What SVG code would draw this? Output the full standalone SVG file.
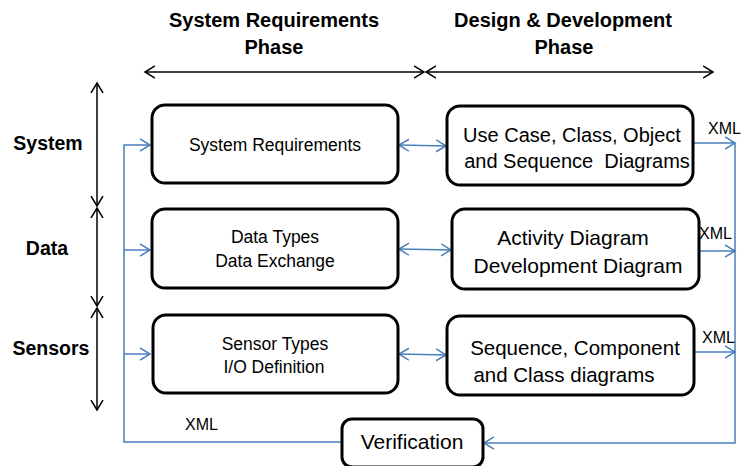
<svg xmlns="http://www.w3.org/2000/svg" width="743" height="466" viewBox="0 0 743 466">
<defs>
<marker id="ab" markerUnits="userSpaceOnUse" markerWidth="12" markerHeight="14" refX="10" refY="7" orient="auto-start-reverse" viewBox="0 0 12 14">
<path d="M0,1 L10,7 L0,13" fill="none" stroke="#000" stroke-width="1.5"/>
</marker>
<marker id="au" markerUnits="userSpaceOnUse" markerWidth="12" markerHeight="14" refX="10" refY="7" orient="auto-start-reverse" viewBox="0 0 12 14">
<path d="M0,1 L10,7 L0,13" fill="none" stroke="#4A7EBB" stroke-width="1.5"/>
</marker>
</defs>
<style>
text{font-family:"Liberation Sans",Arial,sans-serif;fill:#000}
.h{font-weight:bold;font-size:20px;text-anchor:middle}
.lab{font-weight:bold;font-size:19.5px;text-anchor:middle}
.box{fill:#fff;stroke:#000;stroke-width:3}
.t1{font-size:17.5px;text-anchor:middle}
.t2{font-size:20px;text-anchor:middle}
.x{font-size:16px}
.bk{fill:none;stroke:#000;stroke-width:1.5}
.bl{fill:none;stroke:#4A7EBB;stroke-width:1.5}
</style>
<g id="headers">
<text class="h" x="274" y="27">System Requirements</text>
<text class="h" x="274" y="54">Phase</text>
<text class="h" x="563" y="27">Design &amp; Development</text>
<text class="h" x="564" y="54">Phase</text>
</g>
<g id="rowlabels">
<text class="lab" x="48" y="150">System</text>
<text class="lab" x="47" y="255">Data</text>
<text class="lab" x="51" y="355">Sensors</text>
</g>
<g id="connectors">
<line class="bk" x1="145" y1="72" x2="424" y2="72" marker-start="url(#ab)" marker-end="url(#ab)"/>
<line class="bk" x1="426" y1="72" x2="713" y2="72" marker-start="url(#ab)" marker-end="url(#ab)"/>
<line class="bk" x1="97" y1="83" x2="97" y2="206" marker-start="url(#ab)" marker-end="url(#ab)"/>
<line class="bk" x1="97" y1="208" x2="97" y2="306" marker-start="url(#ab)" marker-end="url(#ab)"/>
<line class="bk" x1="97" y1="308" x2="97" y2="410" marker-start="url(#ab)" marker-end="url(#ab)"/>
<path class="bl" d="M341,442 H124 V145 H150" marker-end="url(#au)"/>
<path class="bl" d="M124,250 H150" marker-end="url(#au)"/>
<path class="bl" d="M124,354 H150" marker-end="url(#au)"/>
<line class="bl" x1="399" y1="145" x2="446" y2="146" marker-start="url(#au)" marker-end="url(#au)"/>
<line class="bl" x1="399" y1="249" x2="451" y2="250" marker-start="url(#au)" marker-end="url(#au)"/>
<line class="bl" x1="399" y1="354" x2="446" y2="355" marker-start="url(#au)" marker-end="url(#au)"/>
<path class="bl" d="M693,143 H735" marker-end="url(#au)"/>
<path class="bl" d="M699,251 H735" marker-end="url(#au)"/>
<path class="bl" d="M694,352 H735" marker-end="url(#au)"/>
<path class="bl" d="M735,143 V443 H484" marker-end="url(#au)"/>
<text class="x" x="708" y="134">XML</text>
<text class="x" x="699" y="239">XML</text>
<text class="x" x="702" y="343">XML</text>
<text class="x" x="185" y="430">XML</text>
</g>
<g id="sysreq">
<rect class="box" x="152" y="105" width="246" height="78" rx="13"/>
<text class="t1" x="275" y="151">System Requirements</text>
</g>
<g id="datatypes">
<rect class="box" x="152" y="209" width="246" height="79" rx="13"/>
<text class="t1" x="275" y="243">Data Types</text>
<text class="t1" x="275" y="267">Data Exchange</text>
</g>
<g id="sensortypes">
<rect class="box" x="153" y="315" width="245" height="78" rx="13"/>
<text class="t1" x="275" y="350">Sensor Types</text>
<text class="t1" x="274" y="373">I/O Definition</text>
</g>
<g id="usecase">
<rect class="box" x="447" y="106" width="246" height="79" rx="13"/>
<text class="t2" x="572" y="142" font-size="19.5">Use Case, Class, Object</text>
<text class="t2" x="577" y="168" font-size="19.5" xml:space="preserve">and Sequence  Diagrams</text>
</g>
<g id="activity">
<rect class="box" x="452" y="209" width="247" height="80" rx="13"/>
<text class="t2" x="573" y="245" style="font-size:21px">Activity Diagram</text>
<text class="t2" x="578" y="273" style="font-size:21px">Development Diagram</text>
</g>
<g id="sequence">
<rect class="box" x="447" y="316" width="247" height="79" rx="13"/>
<text class="t2" x="575" y="355" style="font-size:20.5px">Sequence, Component</text>
<text class="t2" x="564" y="382" style="font-size:20.5px">and Class diagrams</text>
</g>
<g id="verification">
<rect class="box" x="342" y="419" width="141" height="48" rx="10"/>
<text class="t2" x="412" y="449" style="font-size:21px">Verification</text>
</g>
</svg>
